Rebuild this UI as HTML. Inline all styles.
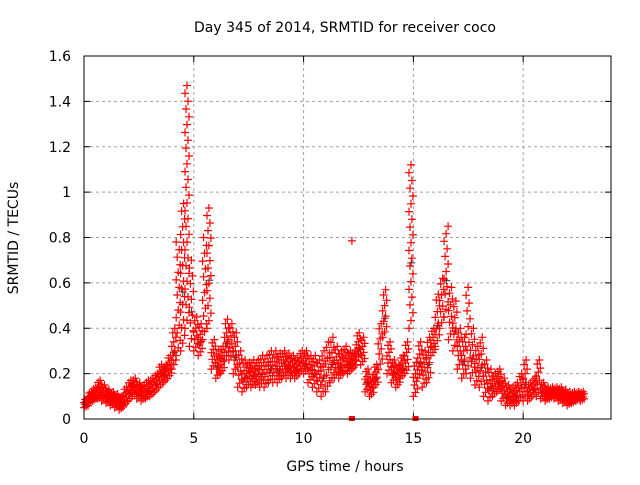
<!DOCTYPE html>
<html><head><meta charset="utf-8"><style>
body{margin:0;background:#fff;}
svg text{font-family:"DejaVu Sans","Liberation Sans",sans-serif;font-size:14px;fill:#000;}
</style></head><body>
<svg id="chart" width="640" height="480">
<rect width="640" height="480" fill="#fff"/>
<text x="345" y="32" text-anchor="middle">Day 345 of 2014, SRMTID for receiver coco</text>
<text x="345" y="471" text-anchor="middle">GPS time / hours</text>
<text transform="translate(18,238) rotate(-90)" text-anchor="middle">SRMTID / TECUs</text>
<g id="grid"></g>
<g id="ticks"></g>
<g id="marks"></g>
<rect x="84" y="56" width="527" height="363" fill="none" stroke="#000" stroke-width="1"/>
</svg>
<script>
const xTicks=[0,5,10,15,20];
const yTicks=[0,0.2,0.4,0.6,0.8,1,1.2,1.4,1.6];
const yTickLabels=["0","0.2","0.4","0.6","0.8","1","1.2","1.4","1.6"];
const times=[];for(let i=0;i<=113;i++)times.push(+(i*0.2).toFixed(1));
const lowVals=[.05,.07,.08,.09,.08,.07,.06,.05,.04,.06,.08,.10,.09,.08,.09,.10,.12,.14,.16,.18,.22,.28,.30,.40,.32,.30,.28,.35,.40,.22,.18,.20,.26,.26,.20,.14,.12,.14,.14,.15,.14,.14,.16,.16,.16,.18,.18,.18,.18,.20,.20,.16,.14,.12,.10,.12,.16,.18,.18,.20,.20,.22,.26,.24,.12,.10,.14,.22,.36,.20,.16,.14,.18,.20,.40,.10,.18,.14,.16,.28,.32,.40,.45,.35,.30,.22,.18,.20,.18,.15,.14,.10,.08,.10,.12,.08,.06,.06,.06,.08,.08,.08,.10,.10,.09,.08,.09,.09,.08,.07,.06,.07,.08,.08];
const highVals=[.09,.12,.14,.17,.15,.13,.12,.11,.10,.14,.17,.18,.16,.15,.17,.18,.20,.24,.24,.28,.40,.78,.95,1.47,.70,.45,.42,.80,.93,.35,.30,.32,.44,.42,.38,.30,.26,.25,.26,.26,.28,.28,.30,.30,.29,.30,.29,.28,.27,.30,.30,.28,.28,.26,.30,.34,.36,.32,.30,.32,.30,.30,.38,.36,.22,.18,.24,.42,.57,.34,.26,.24,.28,.34,1.12,.25,.34,.30,.36,.40,.55,.62,.85,.58,.52,.40,.36,.58,.40,.32,.36,.26,.22,.20,.22,.18,.15,.14,.16,.20,.26,.16,.18,.26,.16,.14,.14,.14,.14,.13,.12,.12,.12,.12];
const outlierT=[12.2];
const outlierV=[0.785];
const zeroT=[12.2,15.1];
const X=t=>84+t*(527/24);
const Y=v=>419-v*(363/1.6);
const NS="http://www.w3.org/2000/svg";
const grid=document.getElementById('grid'),ticks=document.getElementById('ticks'),marks=document.getElementById('marks');
function el(tag,a,p){const e=document.createElementNS(NS,tag);for(const k in a)e.setAttribute(k,a[k]);p.appendChild(e);return e;}
xTicks.forEach(t=>{const x=X(t);
 if(t>0){const g=el('line',{x1:x,y1:56,x2:x,y2:419,stroke:'#a0a0a0','stroke-dasharray':'3,3'},grid);
 
 }
 el('line',{x1:x,y1:419,x2:x,y2:413,stroke:'#000'},ticks);el('line',{x1:x,y1:56,x2:x,y2:62,stroke:'#000'},ticks);
 const tx=el('text',{x:x,y:443,'text-anchor':'middle'},ticks);tx.textContent=t;
 
 });
yTicks.forEach((v,i)=>{const y=Y(v);
 if(i>0&&i<yTicks.length-1){const g=el('line',{x1:84,y1:y,x2:611,y2:y,stroke:'#a0a0a0','stroke-dasharray':'3,3'},grid);
 
 }
 el('line',{x1:84,y1:y,x2:90,y2:y,stroke:'#000'},ticks);el('line',{x1:611,y1:y,x2:605,y2:y,stroke:'#000'},ticks);
 const tx=el('text',{x:71,y:y+5,'text-anchor':'end'},ticks);tx.textContent=yTickLabels[i];
 
 });
let d='',dg='';
const plus=(x,y)=>`M${(x-4).toFixed(1)},${y.toFixed(1)}h8M${x.toFixed(1)},${(y-4).toFixed(1)}v8`;
times.forEach((t,i)=>{const lo=lowVals[i],hi=highVals[i];
 const n=Math.max(9,Math.ceil((hi-lo)/0.035));
 for(let j=0;j<=n;j++){const f=j/n;const tt=t+((j*7)%5)*0.045;const v=lo+(hi-lo)*f;d+=plus(X(tt),Y(v));}
 if(i%2===0)dg+=plus(X(t+0.1),Y(lo+(hi-lo)*0.4));});
outlierT.forEach((t,i)=>{d+=plus(X(t),Y(outlierV[i]));});
const pg=el('path',{d:dg,stroke:'#333',fill:'none','stroke-width':1},marks);


const pr=el('path',{d:d,stroke:'#ff0000',fill:'none','stroke-width':1.2},marks);


zeroT.forEach(t=>{const r=el('rect',{x:X(t)-3,y:416,width:6,height:5,fill:'#ff0000'},marks);
 
 });
</script>
</body></html>
